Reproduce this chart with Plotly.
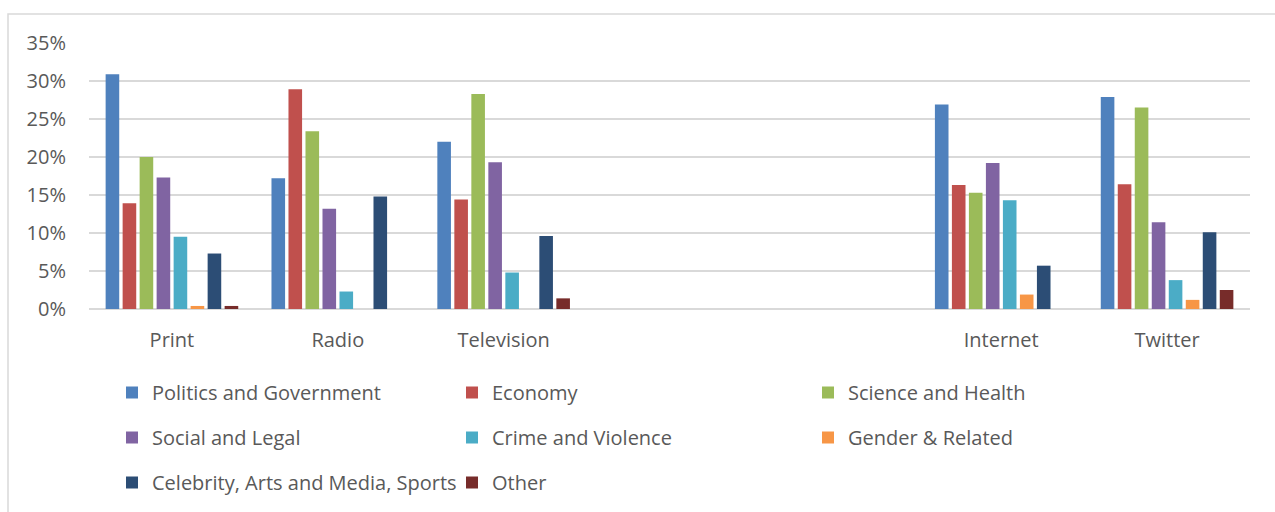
import plotly.graph_objects as go

# Media outlets (two unlabeled spacer slots keep the gap between traditional and online media)
categories = ["Print", "Radio", "Television", "", "", "Internet", "Twitter"]

# Share of coverage by topic, in percent (None for the spacer slots)
politics = [30.9, 17.2, 22.0, None, None, 26.9, 27.9]
economy = [13.9, 28.9, 14.4, None, None, 16.3, 16.4]
science = [20.0, 23.4, 28.3, None, None, 15.3, 26.5]
social = [17.3, 13.2, 19.3, None, None, 19.2, 11.4]
crime = [9.5, 2.3, 4.8, None, None, 14.3, 3.8]
gender = [0.4, 0.0, 0.0, None, None, 1.9, 1.2]
celebrity = [7.3, 14.8, 9.6, None, None, 5.7, 10.1]
other = [0.4, 0.0, 1.4, None, None, 0.0, 2.5]

y_ticks = [0, 5, 10, 15, 20, 25, 30, 35]
y_tick_labels = ["0%", "5%", "10%", "15%", "20%", "25%", "30%", "35%"]

series = [
    ("Politics and Government", politics, "#4F81BD", "legend"),
    ("Economy", economy, "#C0504D", "legend2"),
    ("Science and Health", science, "#9BBB59", "legend3"),
    ("Social and Legal", social, "#8064A2", "legend"),
    ("Crime and Violence", crime, "#4BACC6", "legend2"),
    ("Gender & Related", gender, "#F79646", "legend3"),
    ("Celebrity, Arts and Media, Sports", celebrity, "#2C4D75", "legend"),
    ("Other", other, "#772C2A", "legend2"),
]

FONT = "Open Sans"
FONT_SIZE = 20
TEXT_COLOR = "#595959"
GRID = "#D9D9D9"

fig = go.Figure()
x_pos = list(range(len(categories)))
for name, vals, color, leg in series:
    fig.add_trace(go.Bar(
        x=x_pos, y=vals, name=name,
        marker=dict(color=color, line=dict(width=0)),
        legend=leg, legendgroup=name,
    ))

legend_common = dict(
    orientation="v", xanchor="left", yanchor="top",
    font=dict(family=FONT, size=FONT_SIZE, color=TEXT_COLOR),
    bgcolor="rgba(0,0,0,0)", borderwidth=0,
    traceorder="grouped", tracegroupgap=16,
)

W, H = 1275, 512
L, R, T, B = 89, 25, 43, 203
pw = W - L - R
ph = H - T - B


def px_x(x):
    return (x - L) / pw


def px_y(y):
    return (H - B - y) / ph


fig.update_layout(
    width=W, height=H,
    margin=dict(l=L, r=R, t=T, b=B, autoexpand=False),
    paper_bgcolor="white", plot_bgcolor="white",
    barmode="group", bargap=0.18, bargroupgap=0.2,
    font=dict(family=FONT, size=FONT_SIZE, color=TEXT_COLOR),
    xaxis=dict(
        tickmode="array", tickvals=x_pos, ticktext=categories,
        range=[-0.5, len(categories) - 0.5],
        showgrid=False, zeroline=False, showline=False, ticks="",
        tickfont=dict(family=FONT, size=FONT_SIZE, color=TEXT_COLOR),
        ticklabelstandoff=17,
    ),
    yaxis=dict(
        range=[0, 35], tickmode="array", tickvals=y_ticks, ticktext=y_tick_labels,
        showgrid=True, gridcolor=GRID, gridwidth=1.5,
        zeroline=True, zerolinecolor=GRID, zerolinewidth=1.5,
        showline=False, ticks="",
        tickfont=dict(family=FONT, size=FONT_SIZE, color=TEXT_COLOR),
        ticklabelstandoff=22,
    ),
    legend=dict(legend_common, x=px_x(112), y=px_y(373)),
    legend2=dict(legend_common, x=px_x(452), y=px_y(373)),
    legend3=dict(legend_common, x=px_x(808), y=px_y(373)),
    shapes=[dict(
        type="rect", xref="paper", yref="paper",
        x0=px_x(8), x1=px_x(1280), y0=px_y(14), y1=px_y(520),
        line=dict(color=GRID, width=1.5), fillcolor="rgba(0,0,0,0)", layer="below",
    )],
)

fig.write_html("out.html")
